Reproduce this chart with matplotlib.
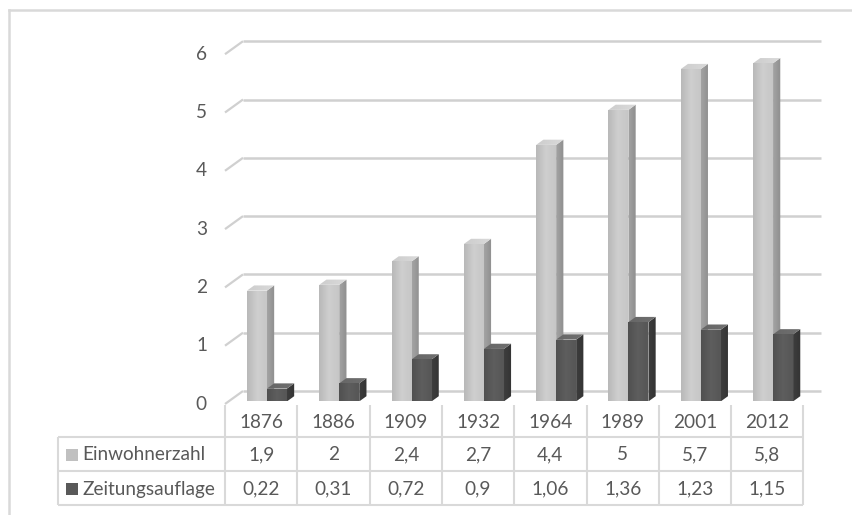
import numpy as np
import matplotlib
matplotlib.use("Agg")
import matplotlib.pyplot as plt
from matplotlib.patches import Polygon
from matplotlib.colors import LinearSegmentedColormap

# --- data ---------------------------------------------------------------
years = ["1876", "1886", "1909", "1932", "1964", "1989", "2001", "2012"]
einwohnerzahl = [1.9, 2, 2.4, 2.7, 4.4, 5, 5.7, 5.8]
zeitungsauflage = [0.22, 0.31, 0.72, 0.9, 1.06, 1.36, 1.23, 1.15]
series_names = ["Einwohnerzahl", "Zeitungsauflage"]
y_ticks = [0, 1, 2, 3, 4, 5, 6]

# --- figure / layout ------------------------------------------------------
W, H = 852, 515
DPI = 100
fig = plt.figure(figsize=(W / DPI, H / DPI), dpi=DPI)
plt.rcParams["font.family"] = ["Lato", "DejaVu Sans"]
TEXT = "#595959"
GRID = "#d0d0d0"
TABLE = "#d9d9d9"
FS = 13.7

# plot area: one category slot per unit on x, values on y
px_left, px_slot = 225, 72.3
px_zero, px_unit = 404, 58.3
ymax = 6.5
ax = fig.add_axes([px_left / W, (H - px_zero) / H,
                   len(years) * px_slot / W, ymax * px_unit / H])
ax.set_xlim(0, len(years))
ax.set_ylim(0, ymax)
ax.set_autoscale_on(False)
ax.axis("off")

# depth of the pseudo-3D box, in data units
DX = 18 / px_slot
DY = 13 / px_unit


def depth(x, y, d):
    return (x + d * DX, y + d * DY)


def face(verts, colors, z):
    poly = Polygon(verts, closed=True, facecolor="none", edgecolor="none",
                   transform=ax.transData)
    ax.add_patch(poly)
    xs, ys = zip(*verts)
    cmap = LinearSegmentedColormap.from_list("f", colors)
    img = ax.imshow(np.linspace(0, 1, 128)[None, :], cmap=cmap,
                    extent=(min(xs), max(xs), min(ys), max(ys)),
                    aspect="auto", origin="lower", zorder=z,
                    interpolation="bilinear")
    img.set_clip_path(poly)


# back wall gridlines and side-wall diagonals
for t in y_ticks:
    bx, by = depth(0, t, 1)
    ax.plot([0, bx], [t, by], color=GRID, lw=1.6, zorder=1,
            solid_capstyle="butt", clip_on=False)
    ax.plot([bx, len(years) + DX], [by, by], color=GRID, lw=1.8, zorder=1,
            solid_capstyle="butt", clip_on=False)
    ax.text(-18 / px_slot, t, str(t), ha="right", va="center",
            fontsize=FS, color=TEXT)

# bars
bar_w = 20 / px_slot
base_off = 0.254
d0, d1 = 0.2, 0.6
styles = [
    dict(front=["#b8b8b8", "#cfcfcf", "#c6c6c6"],
         side=["#a4a4a4", "#8e8e8e"],
         top=["#cdcdcd", "#dadada"]),
    dict(front=["#505050", "#5e5e5e", "#565656"],
         side=["#3e3e3e", "#333333"],
         top=["#666666", "#707070"]),
]
z = 2
for i in range(len(years)):
    for s, vals in enumerate([einwohnerzahl, zeitungsauflage]):
        v = vals[i]
        x0 = i + base_off + s * bar_w
        x1 = x0 + bar_w
        fl = depth(x0, 0, d0); fr = depth(x1, 0, d0)
        tl = depth(x0, v, d0); tr = depth(x1, v, d0)
        br_b = depth(x1, 0, d1); br_t = depth(x1, v, d1); bl_t = depth(x0, v, d1)
        st = styles[s]
        face([fr, br_b, br_t, tr], st["side"], z)
        face([tl, tr, br_t, bl_t], st["top"], z + 0.1)
        face([fl, fr, tr, tl], st["front"], z + 0.2)
        z += 1

# --- data table -----------------------------------------------------------
def ypx(p):
    return (px_zero - p) / px_unit


def xpx(p):
    return (p - px_left) / px_slot


rows = [405, 437, 471, 505]
x_left = xpx(58)
n = len(years)
lk = dict(color=TABLE, lw=1.5, zorder=5, clip_on=False, solid_capstyle="butt")
for i in range(n + 1):
    ax.plot([i, i], [ypx(rows[0]), ypx(rows[-1])], **lk)
ax.plot([x_left, x_left], [ypx(rows[1]), ypx(rows[-1])], **lk)
for r in rows[1:]:
    ax.plot([x_left, n], [ypx(r), ypx(r)], **lk)

for i, yr in enumerate(years):
    ax.text(i + 0.5, ypx((rows[0] + rows[1]) / 2 + 1), yr, ha="center",
            va="center", fontsize=FS, color=TEXT, zorder=6)


def fmt(v):
    return f"{v:g}".replace(".", ",")


key_colors = ["#c0c0c0", "#595959"]
for r, (name, vals) in enumerate(zip(series_names,
                                     [einwohnerzahl, zeitungsauflage])):
    yc = ypx((rows[r + 1] + rows[r + 2]) / 2 + 1)
    ax.add_patch(Polygon([(xpx(66), yc - 6 / px_unit), (xpx(78), yc - 6 / px_unit),
                          (xpx(78), yc + 6 / px_unit), (xpx(66), yc + 6 / px_unit)],
                         closed=True, facecolor=key_colors[r], edgecolor="none",
                         clip_on=False, zorder=6))
    ax.text(xpx(82), yc, name, ha="left", va="center", fontsize=FS,
            color=TEXT, zorder=6)
    for i, v in enumerate(vals):
        ax.text(i + 0.5, yc, fmt(v), ha="center", va="center", fontsize=FS,
                color=TEXT, zorder=6)

# chart frame (top and left edges)
fig.add_artist(plt.Line2D([8.5 / W, 1], [1 - 9.5 / H, 1 - 9.5 / H],
                          transform=fig.transFigure, color=TABLE, lw=1.8))
fig.add_artist(plt.Line2D([8.5 / W, 8.5 / W], [0, 1 - 9.5 / H],
                          transform=fig.transFigure, color=TABLE, lw=1.8))

fig.savefig("out.png", dpi=DPI)
